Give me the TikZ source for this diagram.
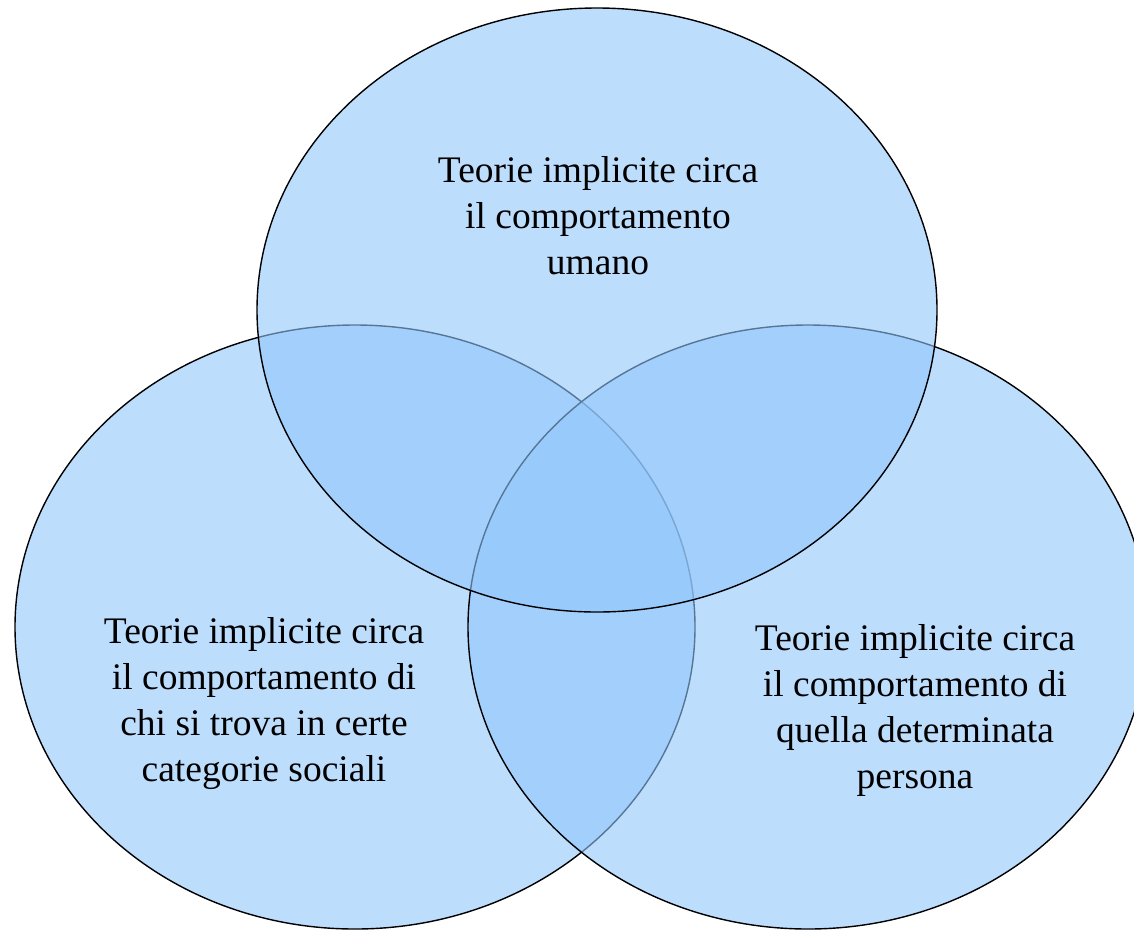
\documentclass[tikz,border=0pt]{standalone}
\usepackage{fontspec}
\setmainfont{Liberation Serif}
\usetikzlibrary{shapes.geometric}
\definecolor{vennblue}{RGB}{145,198,251}
\tikzset{
  venn/.style={ellipse, draw=black, line width=1.4pt, fill=vennblue, fill opacity=0.6, draw opacity=1,
    inner sep=0pt, minimum width=680pt, minimum height=604pt},
  label/.style={align=center, font=\fontsize{37.5}{46}\selectfont, text=black, inner sep=0pt}
}
\begin{document}
\begin{tikzpicture}[x=1pt,y=-1pt]
\useasboundingbox (0,0) rectangle (1134,930);
\begin{scope}
\clip (0,0) rectangle (1134,930);
\node[venn] (left) at (355,627) {};
\node[venn] (right) at (808,627) {};
\node[venn] (top) at (597,310) {};
\end{scope}
\node[label] (ttop) at (598,216) {Teorie implicite circa\\il comportamento\\umano};
\node[label] (tleft) at (264,704) {Teorie implicite circa\\il comportamento di\\chi si trova in certe\\categorie sociali};
\node[label] (tright) at (915,710) {Teorie implicite circa\\il comportamento di\\quella determinata\\persona};
\end{tikzpicture}
\end{document}
